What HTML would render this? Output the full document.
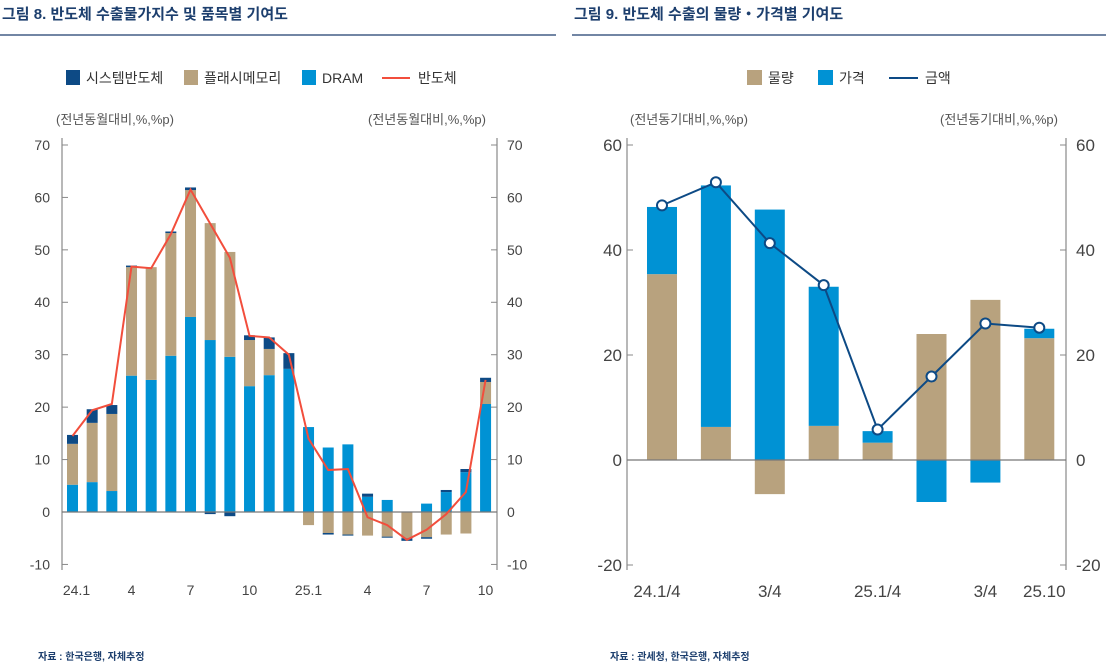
<!DOCTYPE html>
<html><head><meta charset="utf-8">
<style>
body{margin:0;background:#fff;font-family:"Liberation Sans","Noto Sans CJK KR",sans-serif;}
svg{display:block}
text{font-family:"Liberation Sans","Noto Sans CJK KR",sans-serif;}
</style></head>
<body>
<svg id="s" width="1106" height="664" viewBox="0 0 1106 664" xmlns="http://www.w3.org/2000/svg">
<text x="2" y="19" font-size="15" font-weight="bold" fill="#1d3f6e">그림 8. 반도체 수출물가지수 및 품목별 기여도</text>
<line x1="0" y1="35" x2="556" y2="35" stroke="#1d3f6e" stroke-width="1.2"/>
<text x="574" y="19" font-size="15" font-weight="bold" fill="#1d3f6e">그림 9. 반도체 수출의 물량・가격별 기여도</text>
<line x1="572" y1="35" x2="1106" y2="35" stroke="#1d3f6e" stroke-width="1.2"/>
<g>
<rect x="66" y="70" width="14" height="15" fill="#0d4a85"/>
<text x="86" y="83" font-size="14" fill="#333">시스템반도체</text>
<rect x="184" y="70" width="14" height="15" fill="#b8a27e"/>
<text x="204" y="83" font-size="14" fill="#333">플래시메모리</text>
<rect x="302" y="70" width="14" height="15" fill="#0092d4"/>
<text x="322" y="83" font-size="14" fill="#333">DRAM</text>
<line x1="382" y1="78" x2="410" y2="78" stroke="#f24e3c" stroke-width="2"/>
<text x="418" y="83" font-size="14" fill="#333">반도체</text>
</g>
<text x="56" y="124" font-size="13" fill="#555">(전년동월대비,%,%p)</text>
<text x="368" y="124" font-size="13" fill="#555">(전년동월대비,%,%p)</text>
<g>
<rect x="747" y="70" width="15" height="15" fill="#b8a27e"/>
<text x="768" y="83" font-size="14" fill="#333">물량</text>
<rect x="818" y="70" width="15" height="15" fill="#0092d4"/>
<text x="839" y="83" font-size="14" fill="#333">가격</text>
<line x1="889" y1="78" x2="918" y2="78" stroke="#0d4a85" stroke-width="2"/>
<text x="925" y="83" font-size="14" fill="#333">금액</text>
</g>
<text x="630" y="124" font-size="13" fill="#555">(전년동기대비,%,%p)</text>
<text x="940" y="124" font-size="13" fill="#555">(전년동기대비,%,%p)</text>
<text x="38" y="660" font-size="10" font-weight="bold" fill="#1d3f6e">자료 : 한국은행, 자체추정</text>
<text x="610" y="660" font-size="10" font-weight="bold" fill="#1d3f6e">자료 : 관세청, 한국은행, 자체추정</text>
<g id="L"></g><g id="R"></g>
</svg>
<script>
// Left chart data
const lCats = ["24.1","","","4","","","7","","","10","","","25.1","","","4","","","7","","","10"];
const lDram = [5.2,5.7,4.0,26.0,25.2,29.8,37.2,32.8,29.6,24.0,26.1,27.3,16.2,12.3,12.9,2.9,2.3,0.1,1.6,3.8,7.6,20.6];
const lFlash = [7.8,11.3,14.7,20.7,21.5,23.4,24.2,22.3,20.0,8.8,5.0,0,-2.5,-4.0,-4.3,-4.5,-4.7,-5.0,-4.8,-4.3,-4.1,4.2];
const lSys = [1.7,2.6,1.7,0.3,0,0.3,0.5,-0.4,-0.8,0.9,2.2,3.0,0,-0.3,-0.2,0.6,-0.2,-0.5,-0.3,0.4,0.6,0.8];
const lSemi = [14.5,19.4,20.6,46.8,46.5,53.0,61.5,55.0,48.5,33.6,33.3,30.0,14.0,8.0,8.2,-1.0,-2.5,-5.3,-3.4,-0.4,3.8,25.2];
const lTicks = [-10,0,10,20,30,40,50,60,70];
// Right chart data
const rCats = ["24.1/4","","3/4","","25.1/4","","3/4","25.10"];
const rVol = [35.4,6.3,-6.5,6.5,3.3,24.0,30.5,23.2];
const rPrice = [12.8,46.0,47.7,26.5,2.2,-8.0,-4.3,1.8];
const rAmt = [48.5,52.9,41.3,33.3,5.8,15.9,26.0,25.2];
const rTicks = [-20,0,20,40,60];

const NS="http://www.w3.org/2000/svg";
function mk(p,tag,at){const e=document.createElementNS(NS,tag);for(const k in at)e.setAttribute(k,at[k]);p.appendChild(e);return e;}

function stackBars(g,x,w,y,series,colors,names,i){
  let pos=0,neg=0;
  series.forEach((s,k)=>{
    const v=s[i]; if(!v)return;
    let a,b; if(v>0){a=pos;b=pos+v;pos=b;}else{a=neg;b=neg+v;neg=b;}
    const r=mk(g,'rect',{x:x-w/2,y:Math.min(y(a),y(b)),width:w,height:Math.abs(y(a)-y(b)),fill:colors[k]});
    
    
  });
}

function axes(g,x0,x1,yTop,yBot,y,ticks,fs,lx,rx){
  const a=mk(g,'line',{x1:x0,y1:yTop,x2:x0,y2:yBot,stroke:'#888','stroke-width':1.2});
  
  
  const b=mk(g,'line',{x1:x1,y1:yTop,x2:x1,y2:yBot,stroke:'#888','stroke-width':1.2});
  
  
  ticks.forEach(t=>{
    const yy=y(t);
    mk(g,'line',{x1:x0,y1:yy,x2:x0+6,y2:yy,stroke:'#888'});
    mk(g,'line',{x1:x1-6,y1:yy,x2:x1,y2:yy,stroke:'#888'});
    const l=mk(g,'text',{x:lx,y:yy+fs*0.35,'font-size':fs,fill:'#444','text-anchor':'end'});l.textContent=t;
    
    
    const r=mk(g,'text',{x:rx,y:yy+fs*0.35,'font-size':fs,fill:'#444'});r.textContent=t;
    
    
  });
  const z=mk(g,'line',{x1:x0,y1:y(0),x2:x1,y2:y(0),stroke:'#777','stroke-width':1.2});
  
  
}

// Left chart
(function(){
  const g=document.getElementById('L');
  const y=v=>512-v*5.243;
  const x=i=>72.5+i*19.67;
  lCats.forEach((c,i)=>stackBars(g,x(i),11,y,[lDram,lFlash,lSys],['#0092d4','#b8a27e','#0d4a85'],['dram','flash','system'],i));
  axes(g,62,497,138,570,y,lTicks,14,50,507);
  lCats.forEach((c,i)=>{if(!c)return;const t=mk(g,'text',{x:x(i)+(i==0?4:0),y:595,'font-size':14,fill:'#444','text-anchor':'middle'});t.textContent=c;
    
    });
  const p=mk(g,'polyline',{points:lSemi.map((v,i)=>x(i)+','+y(v)).join(' '),fill:'none',stroke:'#f24e3c','stroke-width':2});
  
  
})();

// Right chart
(function(){
  const g=document.getElementById('R');
  const y=v=>460-v*5.25;
  const x=i=>662+i*53.9;
  rCats.forEach((c,i)=>stackBars(g,x(i),30,y,[rVol,rPrice],['#b8a27e','#0092d4'],['volume','price'],i));
  axes(g,627,1066,138,570,y,rTicks,17,622,1076);
  rCats.forEach((c,i)=>{if(!c)return;const t=mk(g,'text',{x:x(i)+(i==0?-5:(i==7?5:0)),y:597,'font-size':17,fill:'#444','text-anchor':'middle'});t.textContent=c;
    
    });
  const p=mk(g,'polyline',{points:rAmt.map((v,i)=>x(i)+','+y(v)).join(' '),fill:'none',stroke:'#0d4a85','stroke-width':2});
  
  
  rAmt.forEach((v,i)=>{const c=mk(g,'circle',{cx:x(i),cy:y(v),r:5,fill:'#fff',stroke:'#0d4a85','stroke-width':2});
    
    });
})();
</script>
</body></html>
